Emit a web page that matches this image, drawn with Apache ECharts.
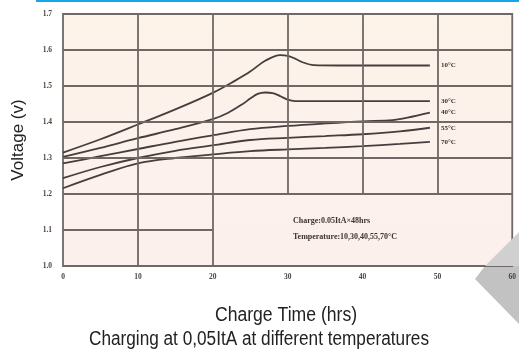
<!DOCTYPE html>
<html><head><meta charset="utf-8">
<script src="https://cdn.jsdelivr.net/npm/echarts@6/dist/echarts.min.js"></script>
<style>html,body{margin:0;padding:0;background:#fff}#c{width:519px;height:360px}</style>
</head><body><div id="c"></div>
<script>
// ---- data ----
var seriesNames = ['10°C', '30°C', '40°C', '55°C', '70°C'];
var hours10 = [0, 5, 10, 15, 20, 23, 25, 27, 29, 30, 31, 32, 33.5, 37, 42, 49];
var volts10 = [1.315, 1.352, 1.393, 1.435, 1.481, 1.515, 1.54, 1.57, 1.586, 1.584, 1.576, 1.566, 1.558, 1.557, 1.557, 1.557];
var hours30 = [0, 5, 10, 15, 20, 22, 24, 25, 26, 27, 28, 29, 30, 31, 35, 42, 49];
var volts30 = [1.303, 1.328, 1.355, 1.38, 1.408, 1.425, 1.45, 1.465, 1.478, 1.482, 1.48, 1.472, 1.462, 1.458, 1.458, 1.458, 1.458];
var hours40 = [0, 5, 10, 15, 20, 25, 30, 35, 40, 44, 46, 49];
var volts40 = [1.285, 1.305, 1.325, 1.345, 1.363, 1.38, 1.389, 1.396, 1.402, 1.405, 1.412, 1.426];
var hours55 = [0, 5, 10, 15, 20, 25, 30, 35, 40, 45, 49];
var volts55 = [1.244, 1.275, 1.30, 1.32, 1.335, 1.35, 1.356, 1.361, 1.366, 1.374, 1.384];
var hours70 = [0, 5, 10, 15, 20, 25, 30, 35, 40, 45, 49];
var volts70 = [1.216, 1.253, 1.285, 1.30, 1.31, 1.319, 1.324, 1.328, 1.333, 1.339, 1.345];
var xTicks = [0, 10, 20, 30, 40, 50, 60];
var yTicks = [1.0, 1.1, 1.2, 1.3, 1.4, 1.5, 1.6, 1.7];
var xAxisTitle = 'Charge Time (hrs)';
var yAxisTitle = 'Voltage (v)';
var caption = 'Charging at 0,05ItA at different temperatures';
var noteLines = ['Charge:0.05ItA×48hrs', 'Temperature:10,30,40,55,70°C'];

// ---- chart ----
var chart = echarts.init(document.getElementById('c'));
function pairs(xs, ys) { return xs.map(function (x, i) { return [x, ys[i]]; }); }
var allHours = [hours10, hours30, hours40, hours55, hours70];
var allVolts = [volts10, volts30, volts40, volts55, volts70];

var gridColor = '#6f6864';
var gridSegs = [];
yTicks.forEach(function (v) {
  if (v === 1.0 || v === 1.7) return;
  gridSegs.push([{ coord: [0, v] }, { coord: [v === 1.1 ? 20 : 60, v] }]);
});
xTicks.forEach(function (h) {
  if (h === 0 || h === 60) return;
  gridSegs.push([{ coord: [h, h <= 20 ? 1.0 : 1.2] }, { coord: [h, 1.7] }]);
});

var series = [{
  type: 'line', data: [], silent: true, symbol: 'none',
  markLine: {
    silent: true, symbol: 'none', label: { show: false },
    lineStyle: { color: gridColor, width: 1.8, type: 'solid' },
    data: gridSegs
  }
}];
seriesNames.forEach(function (n, i) {
  series.push({
    name: n, type: 'line', data: pairs(allHours[i], allVolts[i]),
    smooth: 0.35, symbol: 'none', z: 3,
    lineStyle: { color: '#463e3c', width: 1.8 },
    endLabel: {
      show: true, formatter: n, distance: 11,
      fontFamily: 'Liberation Serif', fontWeight: 'bold', fontSize: 7, color: '#3a3430'
    }
  });
});

var sans = '"Liberation Sans Narrow","Liberation Sans",sans-serif';
chart.setOption({
  animation: false,
  grid: {
    left: 63, right: 2, top: 14, bottom: 94, show: true,
    backgroundColor: new echarts.graphic.LinearGradient(0, 0, 0, 1, [
      { offset: 0, color: '#fcf3e9' }, { offset: 1, color: '#fcf0ee' }]),
    borderColor: gridColor, borderWidth: 1.8
  },
  xAxis: {
    type: 'value', min: 0, max: 60, interval: 10,
    axisLine: { show: false }, axisTick: { show: false }, splitLine: { show: false },
    axisLabel: {
      margin: 7, fontFamily: 'Liberation Serif', fontWeight: 'bold', fontSize: 7.5, color: '#4a4440',
      formatter: function (v) { return xTicks.indexOf(v) >= 0 ? String(v) : ''; }
    }
  },
  yAxis: {
    type: 'value', min: 1.0, max: 1.7, interval: 0.1,
    axisLine: { show: false }, axisTick: { show: false }, splitLine: { show: false },
    name: yAxisTitle, nameLocation: 'middle', nameGap: 36,
    nameTextStyle: { fontFamily: sans, fontSize: 17, color: '#222' },
    axisLabel: {
      margin: 11, fontFamily: 'Liberation Serif', fontWeight: 'bold', fontSize: 7.5, color: '#4a4440',
      formatter: function (v) { return v.toFixed(1); }
    }
  },
  graphic: [
    { type: 'rect', shape: { x: 36, y: 0, width: 483, height: 2 }, style: { fill: '#13a6e8' }, z: 10 },
    { type: 'polygon', shape: { points: [[519, 232], [485, 266], [519, 266]] }, style: { fill: '#d0d0d0' }, z: 5 },
    { type: 'polygon', shape: { points: [[485, 266], [475, 279], [519, 324], [519, 266]] }, style: { fill: '#c2c2c2' }, z: -1 },
    { type: 'text', left: 293, top: 217, style: { text: noteLines[0], fontFamily: 'Liberation Serif', fontWeight: 'bold', fontSize: 8, fill: '#3a3430' }, z: 10 },
    { type: 'text', left: 293, top: 233, style: { text: noteLines[1], fontFamily: 'Liberation Serif', fontWeight: 'bold', fontSize: 8, fill: '#3a3430' }, z: 10 },
    { type: 'text', x: 286, y: 315, scaleX: 0.88, style: { text: xAxisTitle, fontFamily: sans, fontSize: 20, fill: '#222', align: 'center', verticalAlign: 'middle' }, z: 10 },
    { type: 'text', x: 259, y: 339, scaleX: 0.86, style: { text: caption, fontFamily: sans, fontSize: 20, fill: '#222', align: 'center', verticalAlign: 'middle' }, z: 10 }
  ],
  series: series
});
</script></body></html>
